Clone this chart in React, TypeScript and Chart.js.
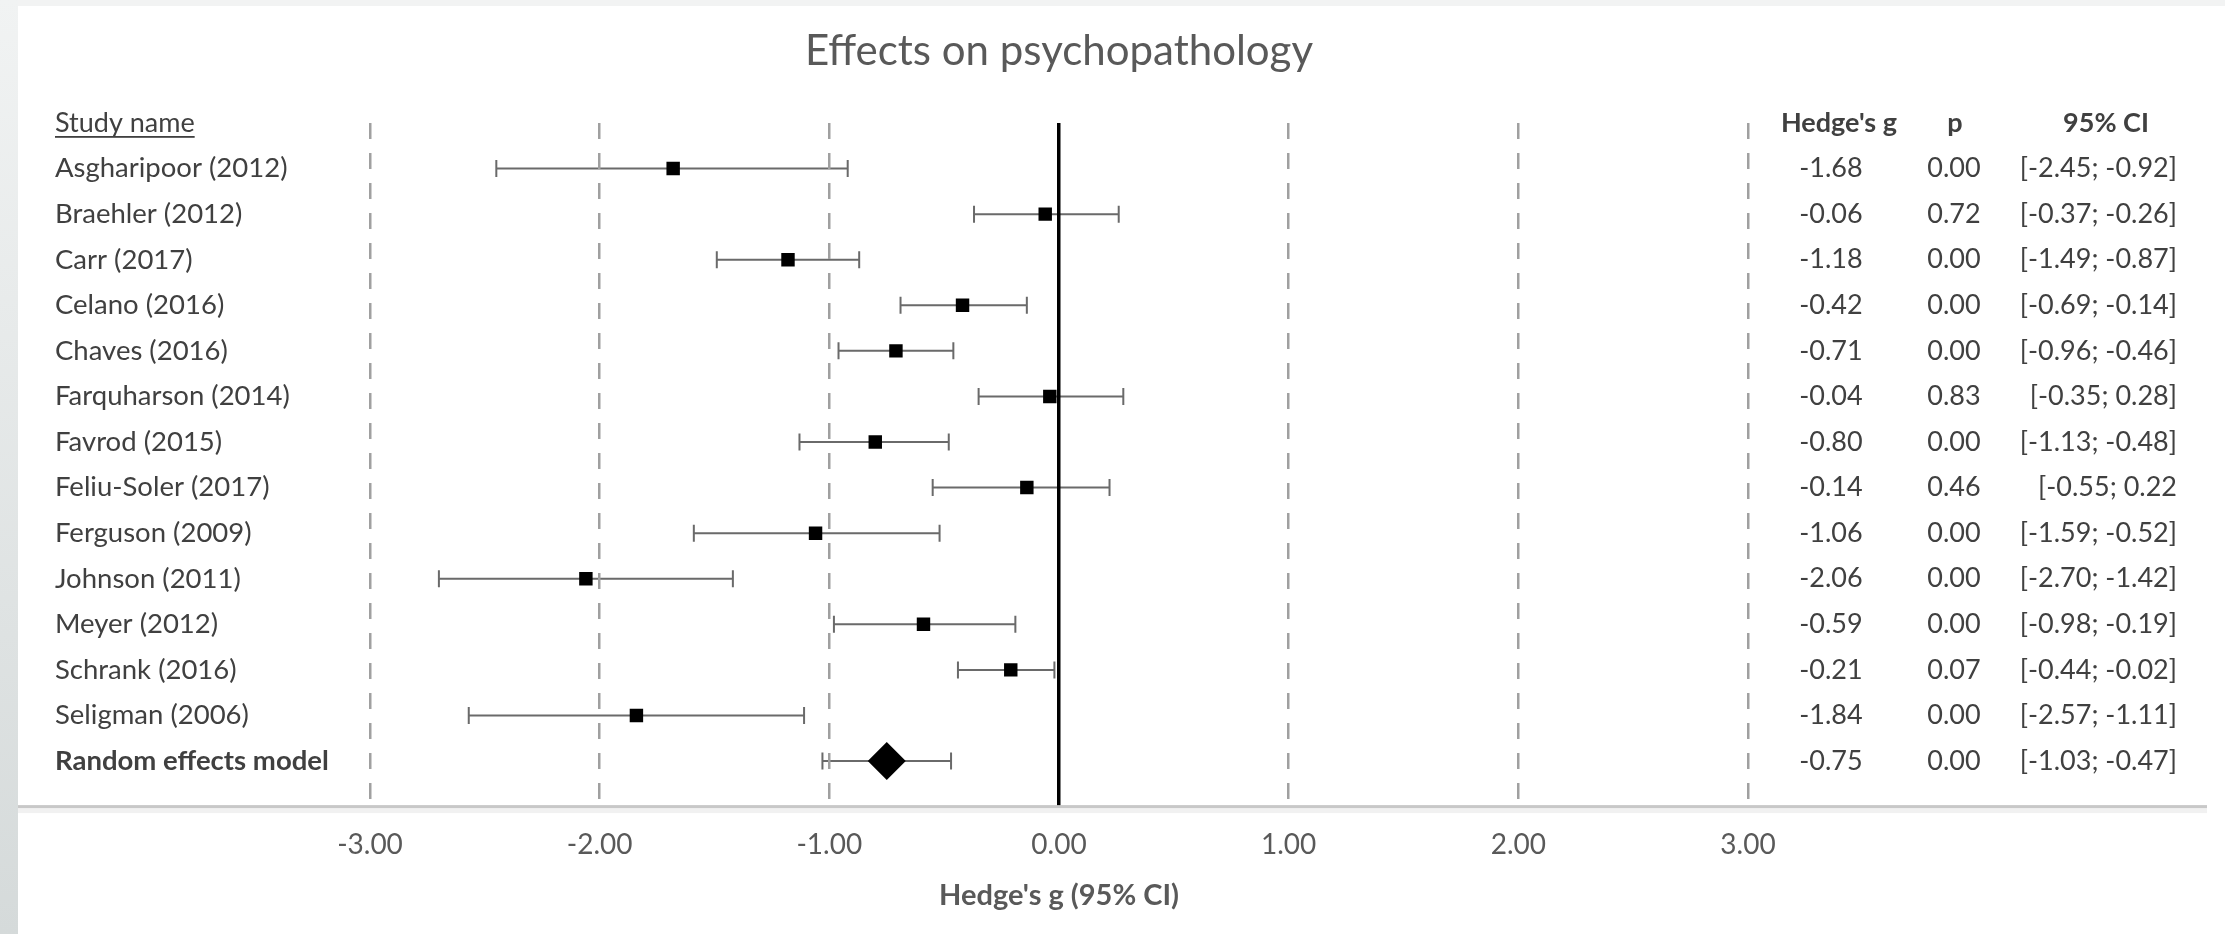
import React, { useEffect, useRef } from "react";
import { Chart, registerables } from "chart.js";

Chart.register(...registerables);

// ---- data ----
const studyNames = [
  "Asgharipoor (2012)",
  "Braehler (2012)",
  "Carr (2017)",
  "Celano (2016)",
  "Chaves (2016)",
  "Farquharson (2014)",
  "Favrod (2015)",
  "Feliu-Soler (2017)",
  "Ferguson (2009)",
  "Johnson (2011)",
  "Meyer (2012)",
  "Schrank (2016)",
  "Seligman (2006)",
];
const hedgesG = [-1.68, -0.06, -1.18, -0.42, -0.71, -0.04, -0.8, -0.14, -1.06, -2.06, -0.59, -0.21, -1.84];
const ciLow = [-2.45, -0.37, -1.49, -0.69, -0.96, -0.35, -1.13, -0.55, -1.59, -2.7, -0.98, -0.44, -2.57];
const ciHigh = [-0.92, 0.26, -0.87, -0.14, -0.46, 0.28, -0.48, 0.22, -0.52, -1.42, -0.19, -0.02, -1.11];
const pValues = ["0.00", "0.72", "0.00", "0.00", "0.00", "0.83", "0.00", "0.46", "0.00", "0.00", "0.00", "0.07", "0.00"];
const ciLabels = [
  "[-2.45; -0.92]",
  "[-0.37; -0.26]",
  "[-1.49; -0.87]",
  "[-0.69; -0.14]",
  "[-0.96; -0.46]",
  "[-0.35; 0.28]",
  "[-1.13; -0.48]",
  "[-0.55; 0.22",
  "[-1.59; -0.52]",
  "[-2.70; -1.42]",
  "[-0.98; -0.19]",
  "[-0.44; -0.02]",
  "[-2.57; -1.11]",
];
const pooledName = "Random effects model";
const pooledG = -0.75;
const pooledLow = -1.03;
const pooledHigh = -0.47;
const pooledP = "0.00";
const pooledCiLabel = "[-1.03; -0.47]";
const columnHeaders = ["Study name", "Hedge's g", "p", "95% CI"];
const xTickValues = [-3, -2, -1, 0, 1, 2, 3];
const chartTitle = "Effects on psychopathology";
const xAxisTitle = "Hedge's g (95% CI)";

const FONT = "Lato, 'Open Sans', sans-serif";

const bgPlugin = {
  id: "bgPlugin",
  beforeDraw(chart: any) {
    const { ctx, width, height } = chart;
    ctx.save();
    ctx.fillStyle = "#ffffff";
    ctx.fillRect(0, 0, width, height);
    const g = ctx.createLinearGradient(0, 0, 0, height);
    g.addColorStop(0, "#f1f3f3");
    g.addColorStop(1, "#d5dada");
    ctx.fillStyle = g;
    ctx.fillRect(0, 0, 18, height);
    ctx.fillStyle = "#f2f3f3";
    ctx.fillRect(18, 0, width - 18, 6);
    ctx.restore();
  },
  afterDraw(chart: any) {
    const { ctx, chartArea } = chart;
    ctx.save();
    const yb = chartArea.bottom;
    ctx.fillStyle = "#f1f1f1";
    ctx.fillRect(18, yb + 1.5, 2207 - 18, 5);
    ctx.fillStyle = "#c8c8c8";
    ctx.fillRect(18, yb - 1.5, 2207 - 18, 3);
    ctx.restore();
  },
};

const whiskerPlugin = {
  id: "whiskers",
  beforeDatasetsDraw(chart: any) {
    const { ctx, scales } = chart;
    const x = scales.x;
    const y = scales.y;
    const lows = [...ciLow, pooledLow];
    const highs = [...ciHigh, pooledHigh];
    ctx.save();
    ctx.strokeStyle = "#6a6a6a";
    ctx.lineWidth = 2;
    lows.forEach((lo, i) => {
      const py = y.getPixelForValue(i + 1);
      const x1 = x.getPixelForValue(lo);
      const x2 = x.getPixelForValue(highs[i]);
      ctx.beginPath();
      ctx.moveTo(x1, py);
      ctx.lineTo(x2, py);
      ctx.moveTo(x1, py - 8.5);
      ctx.lineTo(x1, py + 8.5);
      ctx.moveTo(x2, py - 8.5);
      ctx.lineTo(x2, py + 8.5);
      ctx.stroke();
    });
    ctx.restore();
  },
};

const textPlugin = {
  id: "tableText",
  afterDraw(chart: any) {
    const { ctx, scales } = chart;
    const y = scales.y;
    ctx.save();
    ctx.textBaseline = "middle";
    ctx.fillStyle = "#404040";
    const hy = y.getPixelForValue(0);
    // headers
    ctx.font = `27px ${FONT}`;
    ctx.textAlign = "left";
    ctx.fillText(columnHeaders[0], 55, hy);
    const w = ctx.measureText(columnHeaders[0]).width;
    ctx.fillRect(55, hy + 13, w, 1.8);
    ctx.font = `bold 27px ${FONT}`;
    ctx.textAlign = "center";
    ctx.fillText(columnHeaders[1], 1839, hy);
    ctx.fillText(columnHeaders[2], 1955, hy);
    ctx.fillText(columnHeaders[3], 2106, hy);

    const names = [...studyNames, pooledName];
    const gs = [...hedgesG, pooledG];
    const ps = [...pValues, pooledP];
    const cis = [...ciLabels, pooledCiLabel];
    names.forEach((n, i) => {
      const py = y.getPixelForValue(i + 1);
      const isPooled = i === names.length - 1;
      ctx.font = isPooled ? `bold 27.5px ${FONT}` : `27.5px ${FONT}`;
      ctx.textAlign = "left";
      ctx.fillText(n, 55, py);
      ctx.font = `27px ${FONT}`;
      ctx.textAlign = "center";
      ctx.fillText(gs[i].toFixed(2), 1831, py);
      ctx.fillText(ps[i], 1954, py);
      ctx.textAlign = "right";
      ctx.fillText(cis[i], 2177, py);
    });
    ctx.restore();
  },
};

export default function App() {
  const ref = useRef<HTMLCanvasElement | null>(null);
  useEffect(() => {
    document.body.style.margin = "0";
    const canvas = ref.current;
    if (!canvas) return;
    const chart = new Chart(canvas, {
      type: "scatter",
      data: {
        datasets: [
          {
            data: hedgesG.map((g, i) => ({ x: g, y: i + 1 })),
            pointStyle: "rect",
            pointRadius: 9.5,
            backgroundColor: "#000000",
            borderWidth: 0,
          },
          {
            data: [{ x: pooledG, y: studyNames.length + 1 }],
            pointStyle: "rectRot",
            pointRadius: 19,
            backgroundColor: "#000000",
            borderWidth: 0,
          },
        ],
      },
      options: {
        responsive: false,
        animation: false,
        devicePixelRatio: 1,
        layout: { padding: { left: 370, right: 477, top: 0, bottom: 0 } },
        plugins: {
          legend: { display: false },
          tooltip: { enabled: false },
          title: {
            display: true,
            text: chartTitle,
            color: "#595959",
            font: { family: FONT, size: 42, weight: "normal", lineHeight: 1.2 },
            padding: { top: 26, bottom: 46.6 },
          },
        },
        scales: {
          x: {
            type: "linear",
            min: -3,
            max: 3,
            afterBuildTicks: (scale: any) => {
              scale.ticks = xTickValues.map((v) => ({ value: v }));
            },
            ticks: {
              color: "#595959",
              font: { family: FONT, size: 28 },
              padding: 22,
              callback: (v: any) => Number(v).toFixed(2),
            },
            grid: {
              z: 1,
              drawTicks: false,
              color: (c: any) => (c.tick && c.tick.value === 0 ? "#000000" : "#a0a0a0"),
              lineWidth: (c: any) => (c.tick && c.tick.value === 0 ? 3.5 : 2.5),
            },
            border: {
              display: false,
              dash: (c: any) => (c.tick && c.tick.value === 0 ? [] : [16, 14]),
            },
            title: {
              display: true,
              text: xAxisTitle,
              color: "#595959",
              font: { family: FONT, size: 29, weight: "bold", lineHeight: 1.2 },
              padding: { top: -6, bottom: 21 },
            },
          },
          y: {
            type: "linear",
            display: false,
            reverse: true,
            min: 0,
            max: 15,
          },
        },
      },
      plugins: [bgPlugin, whiskerPlugin, textPlugin],
    } as any);
    return () => chart.destroy();
  }, []);
  return <canvas ref={ref} width={2225} height={934} style={{ display: "block" }} />;
}
